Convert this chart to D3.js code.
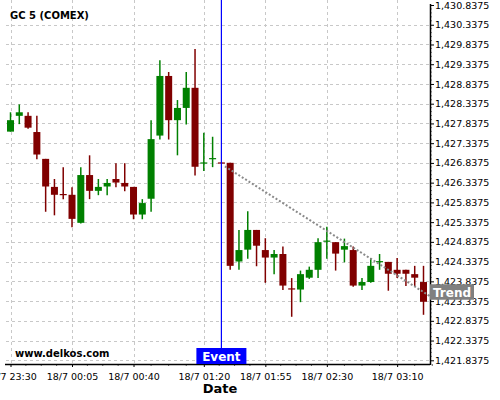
<!DOCTYPE html>
<html>
<head>
<meta charset="utf-8">
<script src="https://cdn.jsdelivr.net/npm/d3@7"></script>
<style>
body{margin:0;background:#fff;}
text{font-family:"DejaVu Sans",sans-serif;}
</style>
</head>
<body>
<svg id="chart" width="500" height="400"></svg>
<script>
// 5 minute candles, index 0 = 23:30
var g_open  = [1427.63,1428.03,1428.03,1427.62,1426.94,1426.23,1426.05,1426.03,1425.32,1426.53,
               1426.13,1426.24,1426.43,1426.33,1426.23,1425.53,1425.93,1427.53,1429.04,1427.92,
               1428.23,1428.74,1426.83,1426.94,1426.85,1426.84,1424.34,1424.64,1425.14,1424.63,
               1424.44,1424.53,1423.66,1423.63,1423.93,1424.13,1424.85,1424.83,1424.64,1424.63,
               1423.73,1423.82,1424.33,1424.33,1424.13,1424.13,1424.02,1423.82];
var g_high  = [1428.12,1428.32,1428.12,1428.03,1426.94,1426.43,1426.73,1426.22,1426.73,1427.03,
               1426.43,1426.43,1426.83,1426.83,1426.23,1425.92,1427.92,1429.44,1429.14,1428.43,
               1429.14,1429.72,1427.60,1427.50,1426.85,1426.84,1425.14,1425.61,1425.14,1424.93,
               1424.63,1424.72,1423.92,1424.11,1424.21,1424.93,1425.22,1424.83,1424.92,1424.72,
               1423.92,1424.43,1424.53,1424.33,1424.43,1424.13,1424.23,1424.23];
var g_low   = [1427.63,1427.82,1427.70,1426.93,1425.60,1425.51,1425.92,1425.21,1425.30,1425.92,
               1426.02,1426.02,1426.22,1426.12,1425.41,1425.41,1425.60,1427.43,1427.43,1427.03,
               1427.81,1426.52,1426.63,1426.73,1426.83,1424.13,1424.13,1424.41,1424.22,1423.80,
               1424.02,1423.62,1422.94,1423.31,1423.90,1423.92,1424.41,1424.11,1424.32,1423.70,
               1423.62,1423.80,1424.13,1423.60,1423.92,1423.72,1423.72,1422.99];
var g_close = [1427.92,1428.12,1427.73,1427.05,1426.24,1426.03,1426.03,1425.42,1426.53,1426.13,
               1426.23,1426.33,1426.34,1426.24,1425.53,1425.82,1427.44,1429.04,1427.92,1428.23,
               1428.74,1426.74,1426.85,1426.96,1426.83,1424.23,1424.63,1425.14,1424.74,1424.44,
               1424.53,1423.73,1423.64,1424.02,1424.13,1424.83,1424.87,1424.54,1424.73,1423.73,
               1423.82,1424.23,1424.35,1424.03,1424.03,1424.03,1423.93,1423.32];

var g_xTickIdx = [0, 7, 14, 22, 29, 36, 44];
var g_xTickLabels = ["18/7 23:30","18/7 00:05","18/7 00:40","18/7 01:20","18/7 01:55","18/7 02:30","18/7 03:10"];
var g_yTicks = [1421.8375,1422.3375,1422.8375,1423.3375,1423.8375,1424.3375,1424.8375,1425.3375,1425.8375,
                1426.3375,1426.8375,1427.3375,1427.8375,1428.3375,1428.8375,1429.3375,1429.8375,1430.3375,1430.8375];

var g_eventIdx = 24;
var g_trendIdx = [24.4, 47.75];
var g_trendVal = [1426.75, 1423.46];

var UP = "#008000", DOWN = "#800000";
var plotLeft = 6, plotRight = 430, plotTop = 0, plotBottom = 364;

var svg = d3.select("#chart");

var x = d3.scaleLinear().domain([0, g_open.length - 1]).range([10.5, 423.5]);
var y = d3.scaleLinear().domain([1421.8375, 1430.8375]).range([360.3, 5]);

svg.append("defs").append("clipPath").attr("id", "plotClip")
	.append("rect").attr("x", plotLeft).attr("y", plotTop)
	.attr("width", plotRight - plotLeft).attr("height", plotBottom - plotTop);

// grid
var grid = svg.append("g").attr("stroke", "#c8c8c8").attr("stroke-dasharray", "3,3").attr("stroke-width", 1);
grid.selectAll("line.h").data(g_yTicks.slice(0, -1)).enter().append("line")
	.attr("x1", plotLeft).attr("x2", plotRight)
	.attr("y1", d => Math.round(y(d)) + 0.5).attr("y2", d => Math.round(y(d)) + 0.5);
grid.selectAll("line.v").data(g_xTickIdx).enter().append("line")
	.attr("y1", plotTop).attr("y2", plotBottom)
	.attr("x1", d => Math.round(x(d)) + 0.5).attr("x2", d => Math.round(x(d)) + 0.5);

var plot = svg.append("g").attr("clip-path", "url(#plotClip)");

// candles
var candles = plot.selectAll("g.candle").data(g_open.map((o, i) => i)).enter().append("g");
candles.append("line")
	.attr("x1", i => x(i)).attr("x2", i => x(i))
	.attr("y1", i => y(g_high[i])).attr("y2", i => y(g_low[i]))
	.attr("stroke", i => g_close[i] >= g_open[i] ? UP : DOWN)
	.attr("stroke-width", 1.5);
candles.append("rect")
	.attr("x", i => x(i) - 3.5).attr("width", 7)
	.attr("y", i => y(Math.max(g_open[i], g_close[i])))
	.attr("height", i => Math.max(1.2, Math.abs(y(g_open[i]) - y(g_close[i]))))
	.attr("fill", i => g_close[i] >= g_open[i] ? UP : DOWN);

// trend
plot.append("line")
	.attr("x1", x(g_trendIdx[0])).attr("y1", y(g_trendVal[0]))
	.attr("x2", x(g_trendIdx[1])).attr("y2", y(g_trendVal[1]))
	.attr("stroke", "#8a8a8a").attr("stroke-width", 2).attr("stroke-dasharray", "2,2");

// event line
var ex = x(g_eventIdx);
svg.append("line").attr("x1", ex).attr("x2", ex).attr("y1", 0).attr("y2", 348)
	.attr("stroke", "#0000ff").attr("stroke-width", 1.2);

// axes
var xAxis = svg.append("g").attr("transform", `translate(0,${plotBottom})`)
	.call(d3.axisBottom(x).tickValues(g_xTickIdx).tickFormat((d, i) => g_xTickLabels[i]).tickSize(3).tickPadding(6));
xAxis.select(".domain").remove();
xAxis.selectAll("text").attr("font-size", "9.5px").attr("font-family", "DejaVu Sans").attr("fill", "#000");

var xMinor = [];
for (var k = 0; k < g_xTickIdx.length - 1; k++) {
	for (var j = 1; j < 4; j++) xMinor.push(g_xTickIdx[k] + (g_xTickIdx[k + 1] - g_xTickIdx[k]) * j / 4);
}
xMinor.push(g_xTickIdx[g_xTickIdx.length - 1] + 2, g_xTickIdx[g_xTickIdx.length - 1] + 4);
svg.append("g").selectAll("line").data(xMinor).enter().append("line")
	.attr("x1", d => x(d)).attr("x2", d => x(d)).attr("y1", plotBottom).attr("y2", plotBottom + 2)
	.attr("stroke", "#666");

var yAxis = svg.append("g").attr("transform", `translate(${plotRight},0)`)
	.call(d3.axisRight(y).tickValues(g_yTicks).tickFormat(d3.format(",.4f")).tickSize(4).tickPadding(1));
yAxis.select(".domain").remove();
yAxis.selectAll("text").attr("font-size", "9.5px").attr("font-family", "DejaVu Sans").attr("fill", "#000");

var yMinor = [];
g_yTicks.slice(0, -1).forEach(function(t){
	for (var j = 1; j < 5; j++) yMinor.push(t + j * 0.1);
});
svg.append("g").selectAll("line").data(yMinor).enter().append("line")
	.attr("x1", plotRight).attr("x2", plotRight + 2).attr("y1", d => y(d)).attr("y2", d => y(d))
	.attr("stroke", "#888");

svg.append("line").attr("x1", plotLeft - 1).attr("x2", plotRight).attr("y1", plotBottom + 0.5).attr("y2", plotBottom + 0.5)
	.attr("stroke", "#000").attr("stroke-width", 1.5);
svg.append("line").attr("x1", plotRight + 0.5).attr("x2", plotRight + 0.5).attr("y1", 4).attr("y2", plotBottom + 1)
	.attr("stroke", "#000").attr("stroke-width", 1.5);

// labels
svg.append("text").attr("x", 10).attr("y", 19).attr("font-size", "10px").attr("font-weight", "bold")
	.text("GC 5 (COMEX)");
svg.append("text").attr("x", 15).attr("y", 357).attr("font-size", "10px").attr("font-weight", "bold")
	.text("www.delkos.com");
svg.append("text").attr("x", (plotLeft + plotRight) / 2 + 2).attr("y", 393).attr("text-anchor", "middle")
	.attr("font-size", "13px").attr("font-weight", "bold").text("Date");

svg.append("rect").attr("x", ex - 25).attr("y", 348).attr("width", 50).attr("height", 16).attr("fill", "#0000ff");
svg.append("text").attr("x", ex).attr("y", 361).attr("text-anchor", "middle").attr("fill", "#fff")
	.attr("font-size", "12px").attr("font-weight", "bold").text("Event");

var ty = y(g_trendVal[1]) - 4;
svg.append("rect").attr("x", plotRight).attr("y", ty - 8).attr("width", 44).attr("height", 15.5).attr("fill", "#808080");
svg.append("text").attr("x", plotRight + 22).attr("y", ty + 4.5).attr("text-anchor", "middle").attr("fill", "#fff")
	.attr("font-size", "12px").attr("font-weight", "bold").text("Trend");
</script>
</body>
</html>
